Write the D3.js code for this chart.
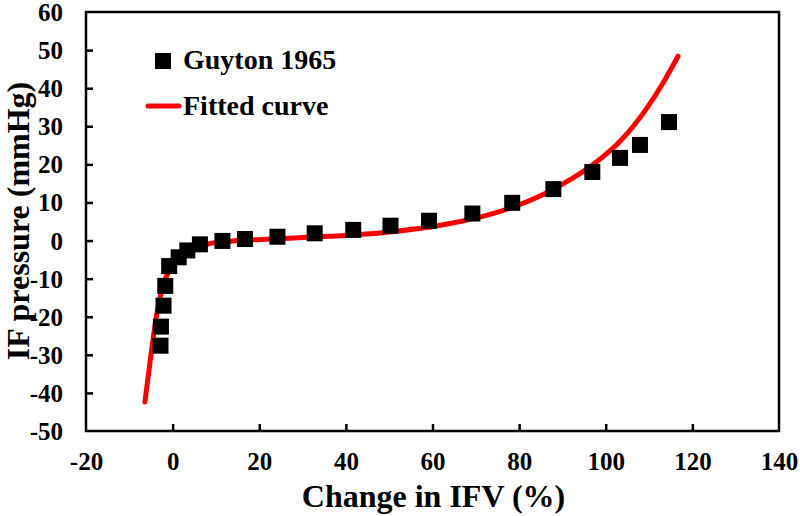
<!DOCTYPE html>
<html>
<head>
<meta charset="utf-8">
<script src="https://cdn.jsdelivr.net/npm/d3@7/dist/d3.min.js"></script>
<style>
  html, body { margin: 0; padding: 0; background: #fff; }
  svg { display: block; }
  text { font-family: "Liberation Serif", "Times New Roman", serif; font-weight: bold; fill: #000; }
</style>
</head>
<body>
<svg id="chart" width="800" height="516"></svg>
<script>
// Measured points (Guyton 1965): change in IFV (%) and IF pressure (mmHg)
const guytonX = [-2.8, -2.7, -2.1, -1.7, -0.8, 1.4, 3.4, 6.3, 11.5, 16.7, 24.2, 32.8, 41.7, 50.3, 59.2, 69.2, 78.4, 87.9, 96.9, 103.3, 107.9, 114.6];
const guytonY = [-27.6, -22.6, -17.1, -11.9, -6.7, -4.4, -2.6, -1.0, -0.1, 0.4, 1.0, 1.9, 2.8, 3.9, 5.2, 7.1, 9.9, 13.5, 18.0, 21.7, 25.1, 31.1];

// Fitted curve
const fitX = [-6.4, -5.0, -3.7, -2.5, -1.0, 0.9, 3.6, 8.2, 14.0, 20.5, 35.9, 51.3, 62.8, 74.3, 85.9, 89.7, 97.0, 103.6, 109.7, 113.6, 116.7];
const fitY = [-42.4, -30.0, -19.5, -13.0, -8.3, -5.4, -2.9, -0.9, -0.1, 0.3, 1.1, 2.4, 4.2, 7.2, 12.3, 14.6, 19.9, 26.4, 35.1, 42.1, 48.4];

const xTicks = [-20, 0, 20, 40, 60, 80, 100, 120, 140];
const yTicks = [-50, -40, -30, -20, -10, 0, 10, 20, 30, 40, 50, 60];

const seriesNames = ["Guyton 1965", "Fitted curve"];
const xTitle = "Change in IFV (%)";
const yTitle = "IF pressure (mmHg)";

const svg = d3.select("#chart");
const L = 86, R = 779, T = 12, B = 431;

const x = d3.scaleLinear().domain([-20, 140]).range([L, R]);
const y = d3.scaleLinear().domain([-50, 60]).range([B, T]);

// frame
svg.append("rect")
  .attr("x", L).attr("y", T).attr("width", R - L).attr("height", B - T)
  .attr("fill", "none").attr("stroke", "#000").attr("stroke-width", 2.5);

const fmt = d => String(d);

// x axis
const xAxis = d3.axisBottom(x).tickValues(xTicks).tickSizeInner(-7).tickSizeOuter(0).tickPadding(0).tickFormat(fmt);
const gx = svg.append("g").attr("transform", `translate(0,${B})`).call(xAxis);
gx.select(".domain").remove();
gx.selectAll(".tick line").attr("stroke", "#000").attr("stroke-width", 2.5);
gx.selectAll(".tick text")
  .attr("y", 39).attr("dy", null).attr("fill", "#000")
  .style("font-size", "25px").style("font-family", "Liberation Serif").style("font-weight", "bold");
gx.selectAll(".tick").filter(d => d === -20 || d === 140).select("line").remove();

// y axis
const yAxis = d3.axisLeft(y).tickValues(yTicks).tickSizeInner(-7).tickSizeOuter(0).tickPadding(0).tickFormat(fmt);
const gy = svg.append("g").attr("transform", `translate(${L},0)`).call(yAxis);
gy.select(".domain").remove();
gy.selectAll(".tick line").attr("stroke", "#000").attr("stroke-width", 2.5);
gy.selectAll(".tick text")
  .attr("x", -23).attr("dy", "0.34em").attr("fill", "#000")
  .style("font-size", "25px").style("font-family", "Liberation Serif").style("font-weight", "bold");
gy.selectAll(".tick").filter(d => d === -50 || d === 60).select("line").remove();

// fitted curve
const fitData = fitX.map((v, i) => [v, fitY[i]]);
const line = d3.line().x(d => x(d[0])).y(d => y(d[1])).curve(d3.curveMonotoneX);
svg.append("path")
  .datum(fitData)
  .attr("d", line)
  .attr("fill", "none").attr("stroke", "#ff0000").attr("stroke-width", 5)
  .attr("stroke-linecap", "round").attr("stroke-linejoin", "round");

// points
const sq = 16;
const pts = guytonX.map((v, i) => [v, guytonY[i]]);
svg.append("g").selectAll("rect").data(pts).join("rect")
  .attr("x", d => x(d[0]) - sq / 2).attr("y", d => y(d[1]) - sq / 2)
  .attr("width", sq).attr("height", sq).attr("fill", "#000");

// legend
const lg = svg.append("g");
lg.append("rect").attr("x", 155).attr("y", 53).attr("width", 16).attr("height", 16).attr("fill", "#000");
lg.append("text").attr("x", 183).attr("y", 69).style("font-size", "28px").text(seriesNames[0]);
lg.append("line").attr("x1", 148).attr("x2", 179).attr("y1", 106).attr("y2", 106)
  .attr("stroke", "#ff0000").attr("stroke-width", 5).attr("stroke-linecap", "round");
lg.append("text").attr("x", 183).attr("y", 115).style("font-size", "28px").text(seriesNames[1]);

// axis titles
svg.append("text").attr("x", (L + R) / 2 + 1).attr("y", 507).attr("text-anchor", "middle")
  .style("font-size", "32px").text(xTitle);
svg.append("text").attr("transform", `translate(29,221) rotate(-90)`).attr("text-anchor", "middle")
  .style("font-size", "32px").text(yTitle);
</script>
</body>
</html>
